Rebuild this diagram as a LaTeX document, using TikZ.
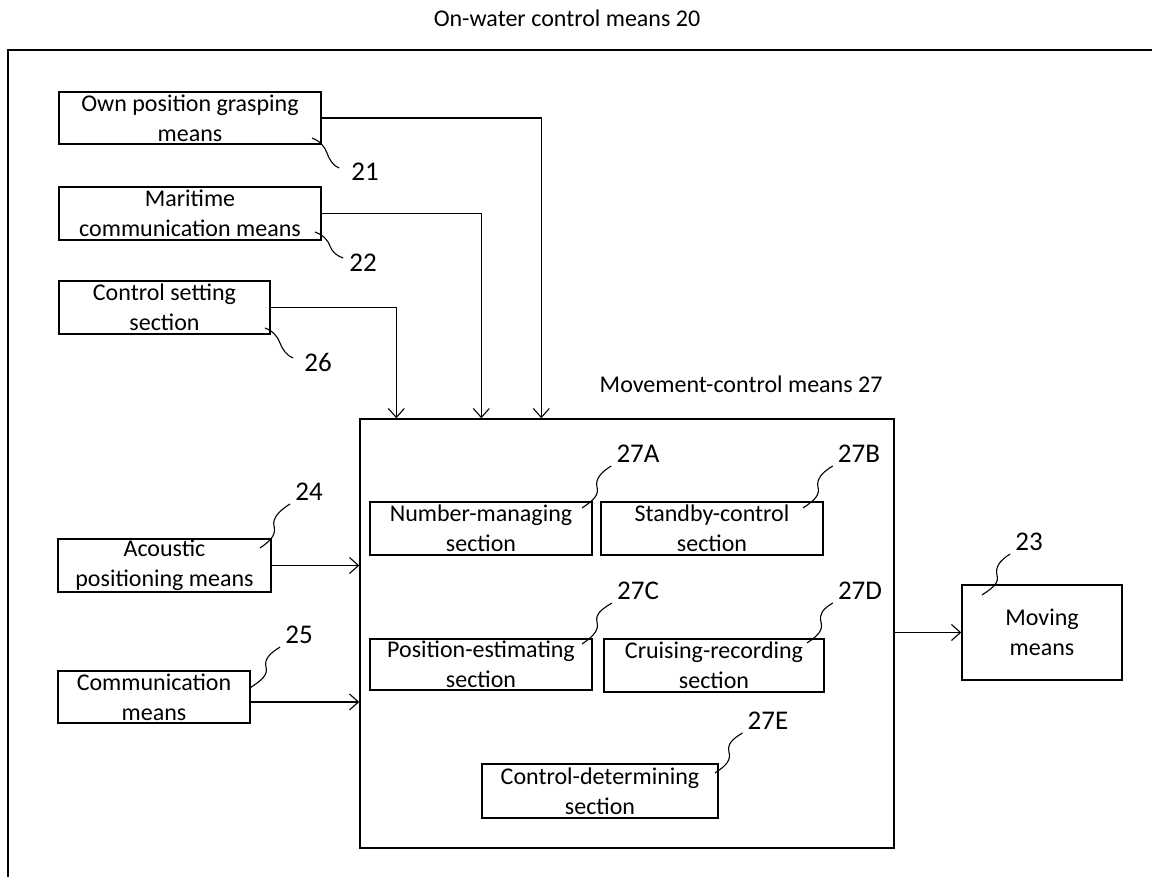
\documentclass[tikz,border=0pt]{standalone}
\usepackage{fontspec}
\setmainfont{Carlito}
\usetikzlibrary{arrows.meta}
\tikzset{
  unit/.style={draw, line width=1.4pt, inner sep=0pt, align=center, font=\fontsize{24}{30}\selectfont},
  conn/.style={line width=1.1pt, -{Straight Barb[length=9pt,width=16pt]}},
  leader/.style={line width=1.1pt},
  refnum/.style={inner sep=1pt, font=\fontsize{27}{32}\selectfont}
}
\begin{document}
\begin{tikzpicture}[x=1pt,y=-1pt]
\useasboundingbox (0,0) rectangle (1152,877);
\draw[line width=1.4pt] (8,877) -- (8,50) -- (1152,50);
\node[font=\fontsize{24}{29}\selectfont, anchor=base] (title) at (567,27) {On-water control means 20};
\node[unit, minimum width=262pt, minimum height=52pt] (own) at (190,118) {Own position grasping\\means};
\node[unit, minimum width=262pt, minimum height=53pt] (maritime) at (190,213.5) {Maritime\\communication means};
\node[unit, minimum width=211pt, minimum height=53pt] (ctrlset) at (164.5,307.5) {Control setting\\section};
\node[unit, minimum width=213pt, minimum height=53pt] (acoustic) at (164.5,565.5) {Acoustic\\positioning means};
\node[unit, minimum width=192pt, minimum height=52pt] (comm) at (154,697) {Communication\\means};
\node[unit, minimum width=534pt, minimum height=429pt] (movectl) at (627,633.5) {};
\node[font=\fontsize{24}{29}\selectfont, anchor=base east] (movtitle) at (886,392) {Movement-control means 27};
\node[unit, minimum width=222pt, minimum height=53pt] (nummgr) at (481,528.5) {Number-managing\\section};
\node[unit, minimum width=222pt, minimum height=53pt] (standby) at (712,528.5) {Standby-control\\section};
\node[unit, minimum width=222pt, minimum height=51pt] (posest) at (481,664.5) {Position-estimating\\section};
\node[unit, minimum width=220pt, minimum height=53pt] (cruise) at (714,665.5) {Cruising-recording\\section};
\node[unit, minimum width=236pt, minimum height=54pt] (ctrldet) at (600,791) {Control-determining\\section};
\node[unit, minimum width=160pt, minimum height=95pt] (moving) at (1042,632.5) {Moving\\means};
% reference numerals
\node[refnum] (n21) at (365,172) {21};
\node[refnum] (n22) at (363,263) {22};
\node[refnum] (n26) at (318,362) {26};
\node[refnum] (n24) at (309,492) {24};
\node[refnum] (n25) at (299,635) {25};
\node[refnum] (n27a) at (638,454) {27A};
\node[refnum] (n27b) at (859,454) {27B};
\node[refnum] (n27c) at (638,591) {27C};
\node[refnum] (n27d) at (860,591) {27D};
\node[refnum] (n27e) at (768,721) {27E};
\node[refnum] (n23) at (1029,542) {23};
% signal lines
\draw[conn] (own.east) -| ([xshift=182pt]movectl.north west);
\draw[conn] (maritime.east) -| ([xshift=122pt]movectl.north west);
\draw[conn] (ctrlset.east) -| ([xshift=37pt]movectl.north west);
\draw[conn] (acoustic.east) -- (acoustic.east -| movectl.west);
\draw[conn] ([yshift=-5pt]comm.east) -- ([yshift=-5pt]comm.east -| movectl.west);
\draw[conn] (movectl.east |- moving.west) -- (moving.west);
% leaders
\coordinate (s21) at (312,138);
\coordinate (s22) at (315,232);
\coordinate (s26) at (265,328);
\coordinate (s24) at (260,548);
\coordinate (s25) at (250,688);
\coordinate (s27a) at (582,508);
\coordinate (s27b) at (803,508);
\coordinate (s27c) at (582,644);
\coordinate (s27d) at (807,643);
\coordinate (s27e) at (715,773);
\coordinate (s23) at (982,595);
\draw[leader] (s21) .. controls +(8,3) and +(-2,-6) .. (327,153) .. controls +(2,6) and +(-6,-2) .. ([shift={(-11pt,4pt)}]n21.west);
\draw[leader] (s22) .. controls +(8,3) and +(-2,-6) .. (330,246) .. controls +(2,6) and +(-6,-2) .. ([shift={(-5pt,5pt)}]n22.west);
\draw[leader] (s26) .. controls +(8,3) and +(-2,-6) .. (280,343) .. controls +(2,6) and +(-6,-2) .. ([shift={(-10pt,4pt)}]n26.west);
\draw[leader] (s24) .. controls +(12,-8) and +(2,8) .. (274,526) .. controls +(-2,-8) and +(-10,6) .. ([shift={(-4pt,-2pt)}]n24.south west);
\draw[leader] (s25) .. controls +(12,-8) and +(2,8) .. (266,667) .. controls +(-2,-8) and +(-10,6) .. ([shift={(-4pt,-2pt)}]n25.south west);
\draw[leader] (s27a) .. controls +(12,-8) and +(2,8) .. (597,487) .. controls +(-2,-8) and +(-10,6) .. ([shift={(-4pt,-2pt)}]n27a.south west);
\draw[leader] (s27b) .. controls +(12,-8) and +(2,8) .. (818,487) .. controls +(-2,-8) and +(-10,6) .. ([shift={(-4pt,-2pt)}]n27b.south west);
\draw[leader] (s27c) .. controls +(12,-8) and +(2,8) .. (597,622) .. controls +(-2,-8) and +(-10,6) .. ([shift={(-4pt,-2pt)}]n27c.south west);
\draw[leader] (s27d) .. controls +(12,-8) and +(2,8) .. (821,622) .. controls +(-2,-8) and +(-10,6) .. ([shift={(-4pt,-2pt)}]n27d.south west);
\draw[leader] (s27e) .. controls +(12,-8) and +(2,8) .. (729,752) .. controls +(-2,-8) and +(-10,6) .. ([shift={(-4pt,-2pt)}]n27e.south west);
\draw[leader] (s23) .. controls +(12,-8) and +(2,8) .. (997,575) .. controls +(-2,-8) and +(-10,6) .. ([shift={(-4pt,-2pt)}]n23.south west);
\end{tikzpicture}
\end{document}
